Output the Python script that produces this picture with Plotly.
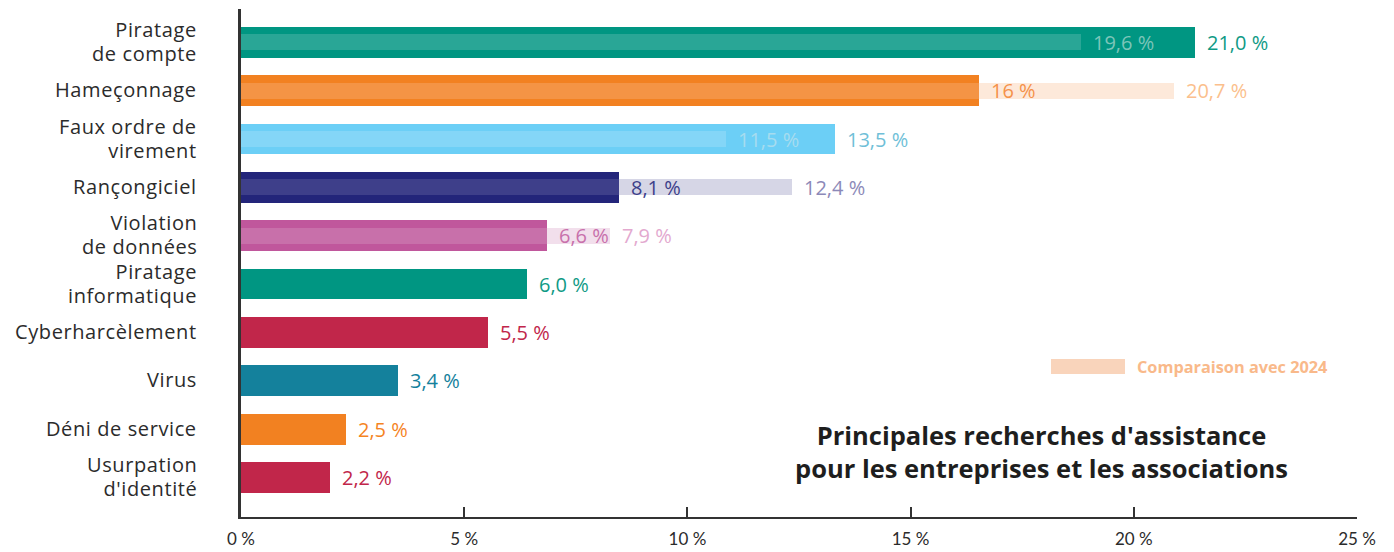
import plotly.graph_objects as go

# ── Données ──────────────────────────────────────────────────────────────────
categories = [
    "Piratage de compte", "Hameçonnage", "Faux ordre de virement",
    "Rançongiciel", "Violation de données", "Piratage informatique",
    "Cyberharcèlement", "Virus", "Déni de service", "Usurpation d'identité",
]
# libellés affichés, ligne par ligne
libelles = [
    ["Piratage", "de compte"], ["Hameçonnage"], ["Faux ordre de", "virement"],
    ["Rançongiciel"], ["Violation", "de données"], ["Piratage", "informatique"],
    ["Cyberharcèlement"], ["Virus"], ["Déni de service"], ["Usurpation", "d'identité"],
]
# longueurs des barres telles que dessinées (en %)
valeurs_2025 = [21.37, 16.53, 13.31, 8.47, 6.85, 6.41, 5.53, 3.52, 2.35, 1.99]
valeurs_2024 = [18.82, 20.90, 10.87, 12.34, 8.27, None, None, None, None, None]
etiquettes_2025 = ["21,0 %", "16 %", "13,5 %", "8,1 %", "6,6 %",
                   "6,0 %", "5,5 %", "3,4 %", "2,5 %", "2,2 %"]
etiquettes_2024 = ["19,6 %", "20,7 %", "11,5 %", "12,4 %", "7,9 %",
                   None, None, None, None, None]
ticks_x = [0, 5, 10, 15, 20, 25]

COULEURS = ["#009682", "#f28121", "#6ccff6", "#23257a", "#c0579c",
            "#009682", "#c1264a", "#14819c", "#f28121", "#c1264a"]
COUL_2024 = ["rgba(128,202,192,0.32)", "rgba(248,188,142,0.33)",
             "rgba(182,231,250,0.32)", "rgba(123,123,174,0.31)",
             "rgba(218,162,200,0.34)"] + [None] * 5
TXT_2025 = ["#0f9a85", "#f5924a", "#70bfd8", "#3d3f8a", "#c870ab",
            "#0f9a85", "#c1264a", "#14819c", "#f5841f", "#c1264a"]
TXT_2024 = ["#7cc5b9", "#fbbf8d", "#a6dcef", "#8c89b8", "#e3a9cf"] + [None] * 5

TEXTE = "#2b2b2b"
POLICE = "Open Sans, sans-serif"

# la page ajoute une marge de 8 px autour de la figure
W, H = 1386, 544
L, R, T, B = 233, 37, 1, 35
PW, PH = W - L - R, H - T - B


def px(xp, yp):
    """coordonnées pixel de la page -> coordonnées papier"""
    return (xp - 8 - L) / PW, (H - B - (yp - 8)) / PH


fig = go.Figure()
fig.add_trace(go.Bar(
    y=categories, x=valeurs_2025, orientation="h", width=0.64,
    marker=dict(color=COULEURS, line=dict(width=0)),
    showlegend=False, hoverinfo="x+y",
))
fig.add_trace(go.Bar(
    y=categories, x=valeurs_2024, orientation="h", width=0.33,
    marker=dict(color=[c if c else "rgba(0,0,0,0)" for c in COUL_2024], line=dict(width=0)),
    showlegend=False, hoverinfo="x+y",
))

# libellés des catégories : police 20 px, interligne ~24 px
# (l'interligne plotly = 1.3 × taille de police de l'annotation, d'où 18.5 ici)
for cat, lignes in zip(categories, libelles):
    texte = "<br>".join(
        f"<span style='font-size:20px;letter-spacing:0.6px'>{l}</span>" for l in lignes)
    fig.add_annotation(x=0, xref="paper", y=cat, text=texte, showarrow=False,
                       xanchor="right", yanchor="middle", align="right",
                       xshift=-42, yshift=1,
                       font=dict(size=18.5, color=TEXTE, family=POLICE))

# étiquettes de valeurs
for cat, v, txt, col in zip(categories, valeurs_2025, etiquettes_2025, TXT_2025):
    fig.add_annotation(x=v, y=cat, text=txt, showarrow=False, xanchor="left",
                       xshift=10, font=dict(size=20, color=col, family=POLICE))
for cat, v, txt, col in zip(categories, valeurs_2024, etiquettes_2024, TXT_2024):
    if v is None:
        continue
    fig.add_annotation(x=v, y=cat, text=txt, showarrow=False, xanchor="left",
                       xshift=10, font=dict(size=20, color=col, family=POLICE))

# légende manuelle
x0, y0 = px(1051, 374)
x1, y1 = px(1125, 359)
fig.add_shape(type="rect", xref="paper", yref="paper", x0=x0, x1=x1, y0=y0, y1=y1,
              fillcolor="#f9d4bb", line=dict(width=0))
lx, ly = px(1135, 367)
fig.add_annotation(xref="paper", yref="paper", x=lx, y=ly,
                   text="<b>Comparaison avec 2024</b>", showarrow=False,
                   xanchor="left", yanchor="middle",
                   font=dict(size=16.3, color="#f9b98a", family=POLICE))

# titre
tx, ty = px(1041, 451)
fig.add_annotation(xref="paper", yref="paper", x=tx, y=ty,
                   text="<b>Principales recherches d'assistance<br>pour les entreprises et les associations</b>",
                   showarrow=False, xanchor="center", yanchor="middle",
                   font=dict(size=25.5, color="#1e1e1e", family=POLICE))

fig.update_layout(
    width=W, height=H,
    barmode="overlay", bargap=0,
    paper_bgcolor="white", plot_bgcolor="white",
    margin=dict(l=L, r=R, t=T, b=B),
    font=dict(family=POLICE, color=TEXTE),
    xaxis=dict(
        range=[0, 25], tickvals=ticks_x, ticktext=[f"{t} %" for t in ticks_x],
        showgrid=False, zeroline=False,
        showline=True, linecolor="#333333", linewidth=2,
        ticks="inside", ticklen=10, tickwidth=1.5, tickcolor="#333333",
        ticklabelstandoff=6,
        tickfont=dict(size=17, color=TEXTE, family="Lato, sans-serif"), fixedrange=True,
    ),
    yaxis=dict(
        range=[9.82, -0.69], showgrid=False, zeroline=False,
        showline=True, linecolor="#333333", linewidth=2.5,
        ticks="", showticklabels=False, fixedrange=True,
    ),
)

fig.write_html("out.html")
